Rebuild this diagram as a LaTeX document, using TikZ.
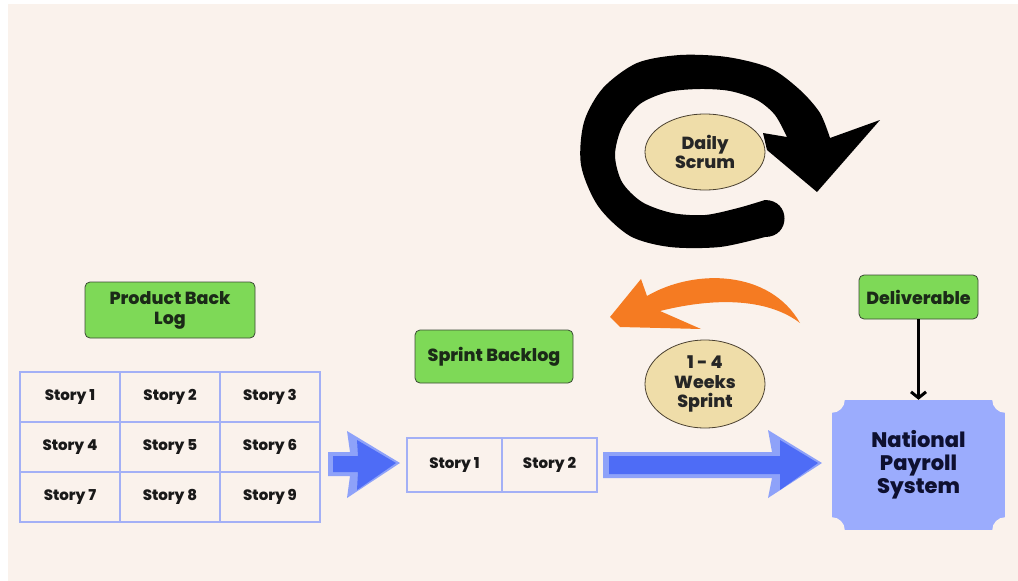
\documentclass[tikz,border=0pt]{standalone}
\usepackage{fontspec}
\setmainfont{Poppins}[BoldFont={Poppins ExtraBold}]
\usetikzlibrary{arrows.meta,shapes.geometric}
\definecolor{bg}{HTML}{FAF2EC}
\definecolor{gridblue}{HTML}{A3B0F6}
\definecolor{boxgreen}{HTML}{7ED957}
\definecolor{boxedge}{HTML}{3A4A34}
\definecolor{greentext}{HTML}{1B2A18}
\definecolor{elltan}{HTML}{EFDDA9}
\definecolor{elledge}{HTML}{4A4030}
\definecolor{lightblue}{HTML}{8EA2F9}
\definecolor{darkblue}{HTML}{4E6CF6}
\definecolor{payblue}{HTML}{9BACFD}
\definecolor{paytext}{HTML}{0E1030}
\definecolor{orangearrow}{HTML}{F57B22}
\begin{document}
\begin{tikzpicture}[x=1pt,y=-1pt,
  cell/.style={draw=gridblue, line width=2.5pt, fill=bg, minimum width=100pt, minimum height=50pt, inner sep=0pt,
    font=\fontsize{15}{16}\selectfont\bfseries, text=black!90},
  scell/.style={cell, minimum width=95pt, minimum height=54pt},
  greenbox/.style={draw=boxedge, fill=boxgreen, rounded corners=5pt, line width=0.8pt, align=center, inner sep=0pt,
    font=\fontsize{17.5}{20}\selectfont\bfseries, text=greentext},
  scrumell/.style={ellipse, draw=elledge, fill=elltan, line width=0.8pt, inner sep=0pt, align=center,
    font=\fontsize{17.5}{19.5}\selectfont\bfseries, text=black!85},
]
\useasboundingbox (0,0) rectangle (1018,581);
\fill[white] (0,0) rectangle (1018,581);
\fill[bg] (8,4) rectangle (1018,581);

% circular arrow (black)
\fill[black] plot[smooth] coordinates {(765,237)(720,247)(670,247)(630,236)(598,206)(581,165)(584,122)(603,88)(637,63)(680,55)(727,57)(770,68)(800,90)(820,113)(830,138)}
  -- (880,120) -- (817,192) -- (767,150) -- (763,133) -- (787,137)
  -- plot[smooth] coordinates {(787,137)(775,115)(757,100)(730,91)(700,89)(668,92)(640,104)(622,127)(615,155)(622,182)(642,202)(672,213)(705,215)(738,208)(765,200)}
  .. controls (791,200) and (791,237) .. (765,237) -- cycle;

\node[scrumell, minimum width=120pt, minimum height=76pt] (daily) at (705,152) {Daily\\Scrum};

% orange arrow
\fill[orangearrow] (610,317) -- (641,279) -- (647,296) .. controls (695,268) and (770,270) .. (800,323)
  .. controls (770,300) and (720,296) .. (660,311) -- (701,329) -- (620,327) -- cycle;

\node[scrumell, minimum width=120pt, minimum height=88pt] (sprint) at (705,384) {1 - 4\\Weeks\\Sprint};

% green labels
\node[greenbox, minimum width=170pt, minimum height=56pt] (pbl) at (170,310) {Product Back\\Log};
\node[greenbox, minimum width=158pt, minimum height=53pt] (sbl) at (494,356.5) {Sprint Backlog};
\node[greenbox, minimum width=119pt, minimum height=44pt] (deliv) at (918.5,297) {Deliverable};

% product backlog grid
\node[cell] (s1) at (70,397) {Story 1};
\node[cell] (s2) at (170,397) {Story 2};
\node[cell] (s3) at (270,397) {Story 3};
\node[cell] (s4) at (70,447) {Story 4};
\node[cell] (s5) at (170,447) {Story 5};
\node[cell] (s6) at (270,447) {Story 6};
\node[cell] (s7) at (70,497) {Story 7};
\node[cell] (s8) at (170,497) {Story 8};
\node[cell] (s9) at (270,497) {Story 9};

% sprint backlog row
\node[scell] (b1) at (454.5,465) {Story 1};
\node[scell] (b2) at (549.5,465) {Story 2};

% blue block arrows
\fill[lightblue] (328,452) -- (350,452) -- (347,431) -- (400,463) -- (347,498) -- (350,476) -- (328,476) -- cycle;
\fill[darkblue] (333,456) -- (358,456) -- (357,440) -- (396,463) -- (357,490) -- (358,472) -- (333,472) -- cycle;
\fill[lightblue] (603,452) -- (772,452) -- (768,430) -- (822,463) -- (768,498) -- (772,478) -- (603,478) -- cycle;
\fill[darkblue] (609,456) -- (780,456) -- (780,440) -- (818,463) -- (780,490) -- (780,474) -- (609,474) -- cycle;

% national payroll system
\node[fill=payblue, minimum width=173pt, minimum height=130pt, inner sep=0pt, align=center,
  font=\fontsize{21}{23}\selectfont\bfseries, text=paytext] (nps) at (918.5,465) {National\\Payroll\\System};
\foreach \c in {north west,north east,south west,south east}
  \fill[bg] (nps.\c) circle (13);

\draw[line width=3pt, -{Straight Barb[length=6pt,width=15pt]}] (deliv.south) -- (nps.north);
\end{tikzpicture}
\end{document}
